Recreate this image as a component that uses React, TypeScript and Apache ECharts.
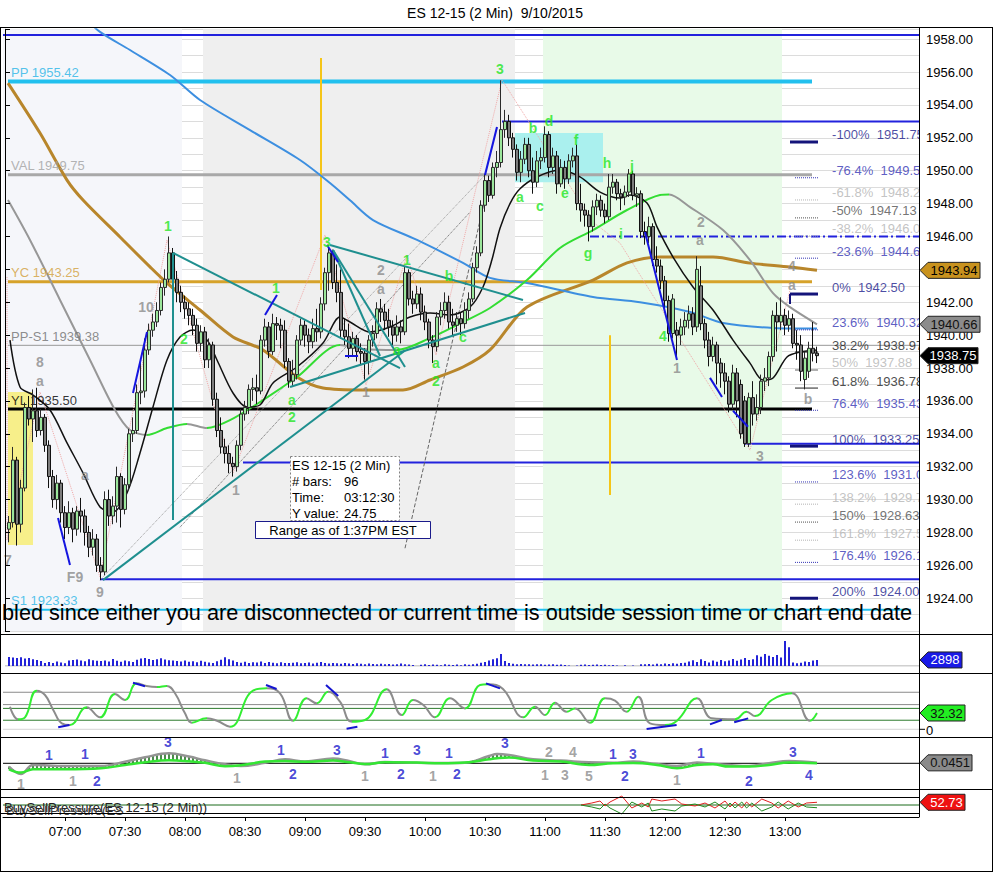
import React, { useEffect, useRef } from "react";
import * as echarts from "echarts";

const FONT = "'Liberation Sans', Arial, Helvetica, sans-serif";
const TITLE = "ES 12-15 (2 Min)  9/10/2015";
const SESSION_START_MIN = 390; // category 0 = 06:30, one category per 2-minute bar
const CATEGORY_COUNT = 229;
const LAST_BAR = 203;
const TIME_LABELS = ["07:00", "07:30", "08:00", "08:30", "09:00", "09:30", "10:00", "10:30", "11:00", "11:30", "12:00", "12:30", "13:00"];
// price tick labels hidden behind the last-value tags in the reference
const TICKS_UNDER_TAGS = [1944];

// [open, close, low, high] for bars 1..203
const BARS: number[][] = [
  [1928.2, 1928.6, 1927.4, 1929.0], [1928.6, 1932.4, 1928.3, 1933.2], [1932.4, 1928.5, 1927.2, 1932.6], [1928.5, 1930.7, 1928.0, 1931.2], [1930.7, 1935.6, 1930.5, 1935.9],
  [1935.6, 1934.9, 1934.5, 1936.3], [1934.9, 1935.4, 1933.5, 1936.7], [1935.4, 1934.2, 1933.8, 1936.8], [1934.2, 1935.0, 1933.9, 1935.5], [1935.0, 1933.3, 1932.9, 1935.2],
  [1933.3, 1931.4, 1930.7, 1933.6], [1931.4, 1930.0, 1929.5, 1931.8], [1930.0, 1931.0, 1929.4, 1931.5], [1931.0, 1929.2, 1928.6, 1931.2], [1929.2, 1928.3, 1927.6, 1929.6],
  [1928.3, 1929.2, 1927.9, 1929.9], [1929.2, 1928.2, 1927.4, 1929.5], [1928.2, 1929.3, 1927.8, 1929.6], [1929.3, 1929.0, 1928.0, 1930.1], [1929.0, 1928.0, 1927.2, 1929.4],
  [1928.0, 1927.1, 1926.5, 1928.4], [1927.1, 1927.6, 1926.6, 1928.2], [1927.6, 1926.0, 1925.6, 1927.9], [1926.0, 1925.6, 1925.1, 1926.5], [1925.6, 1930.0, 1925.4, 1930.5],
  [1930.0, 1929.0, 1928.4, 1930.6], [1929.0, 1929.6, 1928.5, 1930.2], [1929.6, 1931.4, 1928.6, 1932.0], [1931.4, 1929.4, 1928.3, 1931.6], [1929.4, 1930.9, 1929.1, 1931.3],
  [1930.9, 1934.0, 1930.6, 1934.3], [1934.0, 1934.2, 1933.5, 1935.0], [1934.2, 1936.5, 1934.0, 1937.0], [1936.5, 1936.6, 1935.8, 1938.5], [1936.6, 1939.1, 1936.2, 1939.8],
  [1939.1, 1940.3, 1938.8, 1940.7], [1940.3, 1940.8, 1939.9, 1941.3], [1940.8, 1941.5, 1940.5, 1942.0], [1941.5, 1942.9, 1941.2, 1943.2], [1942.9, 1943.4, 1942.4, 1944.0],
  [1943.4, 1945.0, 1943.2, 1946.0], [1945.0, 1943.4, 1943.0, 1945.3], [1943.4, 1942.6, 1942.0, 1943.9], [1942.6, 1942.0, 1941.4, 1943.0], [1942.0, 1941.6, 1941.0, 1942.4],
  [1941.6, 1941.2, 1940.6, 1942.0], [1941.2, 1940.6, 1940.0, 1941.6], [1940.6, 1939.5, 1939.0, 1941.0], [1939.5, 1940.2, 1939.0, 1940.6], [1940.2, 1938.5, 1938.0, 1940.5],
  [1938.5, 1939.4, 1938.0, 1939.8], [1939.4, 1936.1, 1935.7, 1939.6], [1936.1, 1934.2, 1933.8, 1936.5], [1934.2, 1933.2, 1932.8, 1935.0], [1933.2, 1932.8, 1932.2, 1933.7],
  [1932.8, 1932.2, 1931.6, 1933.3], [1932.2, 1932.0, 1931.4, 1932.6], [1932.0, 1933.3, 1931.7, 1933.6], [1933.3, 1935.2, 1933.0, 1935.5], [1935.2, 1935.6, 1934.8, 1936.0],
  [1935.6, 1936.7, 1935.2, 1937.0], [1936.7, 1936.8, 1936.0, 1937.4], [1936.8, 1936.6, 1935.8, 1937.6], [1936.6, 1939.7, 1936.4, 1940.0], [1939.7, 1940.5, 1939.3, 1941.0],
  [1940.5, 1939.0, 1938.6, 1940.8], [1939.0, 1940.7, 1938.8, 1941.3], [1940.7, 1940.6, 1939.7, 1941.1], [1940.6, 1940.3, 1939.2, 1941.0], [1940.3, 1938.4, 1938.0, 1940.9],
  [1938.4, 1937.2, 1936.8, 1938.6], [1937.2, 1937.6, 1936.9, 1938.5], [1937.6, 1939.7, 1937.3, 1940.0], [1939.7, 1940.6, 1939.4, 1941.0], [1940.6, 1940.0, 1939.3, 1940.9],
  [1940.0, 1939.6, 1938.9, 1940.4], [1939.6, 1940.4, 1939.2, 1941.0], [1940.4, 1940.2, 1939.6, 1941.6], [1940.2, 1941.9, 1939.8, 1942.3], [1941.9, 1943.8, 1941.5, 1944.1],
  [1943.8, 1945.0, 1942.7, 1945.5], [1945.0, 1943.2, 1942.8, 1945.2], [1943.2, 1942.6, 1942.0, 1944.3], [1942.6, 1940.3, 1939.8, 1944.0], [1940.3, 1939.9, 1939.4, 1941.0],
  [1939.9, 1939.2, 1938.6, 1940.7], [1939.2, 1939.8, 1938.7, 1940.2], [1939.8, 1939.0, 1938.4, 1940.0], [1939.0, 1938.9, 1938.2, 1939.5], [1938.9, 1938.4, 1937.3, 1939.2],
  [1938.4, 1939.7, 1937.6, 1940.0], [1939.7, 1940.1, 1939.3, 1940.6], [1940.1, 1941.6, 1939.8, 1942.0], [1941.6, 1941.4, 1940.8, 1942.2], [1941.4, 1940.9, 1940.3, 1941.9],
  [1940.9, 1940.5, 1939.9, 1941.6], [1940.5, 1940.0, 1939.4, 1940.9], [1940.0, 1940.5, 1939.6, 1941.2], [1940.5, 1940.2, 1939.5, 1940.9], [1940.2, 1943.8, 1940.0, 1944.2],
  [1943.8, 1942.2, 1941.8, 1944.0], [1942.2, 1941.9, 1941.3, 1942.7], [1941.9, 1942.5, 1941.6, 1943.0], [1942.5, 1941.4, 1940.9, 1942.9], [1941.4, 1940.8, 1940.3, 1941.8],
  [1940.8, 1939.7, 1939.2, 1941.0], [1939.7, 1939.3, 1938.3, 1940.0], [1939.3, 1941.1, 1939.0, 1941.4], [1941.1, 1941.5, 1940.6, 1942.0], [1941.5, 1942.0, 1941.0, 1942.6],
  [1942.0, 1940.8, 1940.4, 1942.4], [1940.8, 1940.6, 1940.0, 1941.6], [1940.6, 1941.0, 1940.2, 1941.4], [1941.0, 1940.7, 1940.0, 1941.4], [1940.7, 1941.5, 1940.4, 1942.0],
  [1941.5, 1942.2, 1941.0, 1942.6], [1942.2, 1944.1, 1942.0, 1944.4], [1944.1, 1945.0, 1943.8, 1945.4], [1945.0, 1947.9, 1944.8, 1948.2], [1947.9, 1949.4, 1947.5, 1949.8],
  [1949.4, 1948.5, 1948.1, 1949.7], [1948.5, 1950.2, 1948.3, 1950.5], [1950.2, 1950.5, 1949.6, 1951.2], [1950.5, 1952.5, 1950.2, 1955.5], [1952.5, 1953.0, 1952.0, 1953.7],
  [1953.0, 1952.0, 1951.5, 1953.4], [1952.0, 1951.3, 1950.8, 1952.3], [1951.3, 1949.9, 1949.4, 1951.6], [1949.9, 1950.7, 1949.3, 1951.2], [1950.7, 1951.6, 1950.4, 1952.0],
  [1951.6, 1950.0, 1949.6, 1952.0], [1950.0, 1949.3, 1948.6, 1950.8], [1949.3, 1950.6, 1949.0, 1951.2], [1950.6, 1950.8, 1950.1, 1951.4], [1950.8, 1952.2, 1950.5, 1952.7],
  [1952.2, 1950.2, 1949.6, 1952.4], [1950.2, 1950.9, 1949.8, 1951.4], [1950.9, 1949.2, 1948.6, 1951.2], [1949.2, 1950.2, 1949.0, 1950.7], [1950.2, 1949.5, 1948.9, 1950.6],
  [1949.5, 1950.6, 1949.2, 1951.0], [1950.6, 1950.9, 1950.2, 1951.4], [1950.9, 1948.0, 1947.6, 1951.6], [1948.0, 1947.6, 1946.9, 1949.2], [1947.6, 1947.3, 1946.6, 1948.0],
  [1947.3, 1946.6, 1945.7, 1947.6], [1946.6, 1947.8, 1946.3, 1948.2], [1947.8, 1948.2, 1947.3, 1948.6], [1948.2, 1947.6, 1947.2, 1948.5], [1947.6, 1947.2, 1946.8, 1948.0],
  [1947.2, 1949.0, 1947.0, 1949.8], [1949.0, 1949.3, 1948.6, 1949.8], [1949.3, 1948.6, 1948.2, 1949.5], [1948.6, 1948.4, 1947.6, 1948.9], [1948.4, 1948.7, 1947.9, 1949.1],
  [1948.7, 1949.8, 1948.4, 1950.1], [1949.8, 1948.5, 1948.2, 1950.0], [1948.5, 1948.6, 1947.8, 1949.0], [1948.6, 1946.3, 1945.9, 1948.8], [1946.3, 1946.0, 1945.5, 1946.9],
  [1946.0, 1946.6, 1945.6, 1947.2], [1946.6, 1944.6, 1944.2, 1946.8], [1944.6, 1944.2, 1943.8, 1945.4], [1944.2, 1943.3, 1942.8, 1944.6], [1943.3, 1942.1, 1941.6, 1943.6],
  [1942.1, 1940.1, 1939.6, 1942.4], [1940.1, 1942.2, 1939.8, 1942.5], [1940.3, 1940.0, 1938.5, 1940.8], [1940.0, 1940.5, 1939.4, 1941.0], [1940.5, 1940.9, 1940.0, 1941.4],
  [1940.9, 1941.3, 1940.4, 1941.8], [1941.3, 1940.5, 1940.0, 1941.7], [1940.5, 1944.0, 1940.2, 1944.8], [1943.0, 1940.7, 1940.3, 1944.2], [1940.7, 1939.7, 1939.2, 1941.0],
  [1939.7, 1938.7, 1938.1, 1940.2], [1938.7, 1939.4, 1938.4, 1939.9], [1939.4, 1938.3, 1937.0, 1939.6], [1938.3, 1937.7, 1936.8, 1938.6], [1937.7, 1937.2, 1936.4, 1938.3],
  [1937.2, 1935.8, 1935.3, 1937.5], [1935.8, 1937.7, 1935.5, 1938.2], [1937.7, 1936.0, 1935.0, 1938.0], [1937.0, 1934.0, 1933.7, 1937.3], [1936.0, 1933.4, 1933.2, 1936.3],
  [1933.4, 1936.2, 1933.2, 1936.5], [1936.2, 1935.2, 1934.5, 1937.2], [1935.2, 1935.6, 1934.8, 1936.4], [1935.6, 1937.2, 1935.2, 1937.6], [1937.2, 1937.4, 1936.6, 1938.0],
  [1937.4, 1938.7, 1936.9, 1939.0], [1938.7, 1941.2, 1938.4, 1941.5], [1941.2, 1940.8, 1939.0, 1942.0], [1940.8, 1941.2, 1940.3, 1942.3], [1941.2, 1940.6, 1940.0, 1941.6],
  [1940.6, 1941.0, 1940.2, 1941.5], [1941.0, 1939.5, 1939.2, 1941.3], [1939.5, 1939.4, 1938.5, 1940.3], [1939.4, 1937.8, 1937.2, 1940.0], [1937.3, 1938.6, 1936.7, 1939.0],
  [1937.8, 1939.2, 1937.4, 1939.6], [1939.2, 1938.9, 1938.4, 1940.8], [1938.9, 1938.75, 1938.3, 1939.3],
];

// volume per bar 1..203
const VOLUME: number[] = [
  4300, 4100, 3900, 4200, 3600, 3800, 3300, 2900, 2400,
  1500, 1900, 1400, 2200, 1700, 1300,
  2600, 2900, 3100, 2700, 2300, 3300, 2800, 2500,
  2400, 2600, 2200, 3400, 2500, 2100, 2700, 2300, 1900,
  3000, 3600, 3900, 3400, 2900, 3200, 3700, 3100, 2800, 2600,
  2400, 2200, 2600, 2100, 2300, 1800, 2500, 2000, 1700, 1500, 2300,
  3000, 4200, 3300, 2700,
  1900, 1600, 2100, 1400, 1800, 1700, 2200, 1500, 1900, 1600, 1300, 1800, 1500,
  1400, 1600, 1800, 1300, 1500, 1700, 1200, 1600, 1900, 1400, 1200, 1500, 1300, 1100, 1400,
  1200, 1000, 1300, 1100, 900, 1200, 1000, 800, 1100, 900, 1000, 700, 900, 1200, 800,
  700, 500, 0, 600, 800, 500, 700, 600, 400, 800, 600, 500, 700, 400, 900, 600, 800, 1100,
  1600, 1900, 2600, 3300, 3700, 5800, 2400, 1500, 1100,
  900, 1000, 800, 900, 700, 800, 900, 600, 700, 800, 600, 700, 500,
  300, 0, 300,
  600, 700, 500, 600, 700, 500, 600, 400, 500, 300, 0, 400, 0, 300, 0,
  800, 900, 1000, 700, 1100, 900, 1200, 1000, 1300, 1100, 1400,
  1600, 2200, 2800, 1900, 3200, 2400, 1700, 2600, 2100, 2900,
  2300, 2700, 3400, 2500, 3100, 3800, 2900, 3300,
  5200, 4400, 5800, 4900, 4300, 5300, 4100,
  12000, 9000,
  1700, 1300, 1600, 2200, 1900, 2600, 2898,
];

// moving averages: [bar position, price]
const MA_BLUE = [[20, 1959.3], [23.75, 1958.44], [31.25, 1957.34], [41.25, 1955.82], [48.75, 1954.3], [61.25, 1952.47], [73.75, 1950.65], [81.25, 1949.25], [86.25, 1948.2], [92, 1947.0], [103, 1945.79], [114.5, 1944.39], [121.25, 1943.48], [130.5, 1943.17], [147, 1942.32], [158.75, 1942.0], [171.25, 1941.41], [179.5, 1940.74], [192, 1940.44], [203, 1940.4]];
const MA_SLOPE = [[0.75, 1948.22], [6.25, 1945.79], [13.75, 1942.14], [21.25, 1938.49], [27.5, 1935.45], [31.25, 1934.23], [35.5, 1933.93], [40.5, 1934.35], [45.5, 1934.6], [50.5, 1934.35], [56.25, 1934.83], [64.5, 1936.05], [73, 1937.45], [83.75, 1939.4], [89.5, 1939.16], [98, 1939.1], [106.25, 1939.82], [114.5, 1940.8], [121.25, 1941.65], [130.5, 1943.35], [138.75, 1945.3], [147, 1946.39], [155.5, 1947.61], [163.75, 1948.52], [166, 1948.55], [171.25, 1947.79], [179.5, 1946.39], [186.25, 1944.56], [192, 1942.55], [196.25, 1941.7], [203, 1940.66]];
const MA_BLACK = [[1.25, 1939.7], [3.75, 1936.85], [7, 1936.36], [11.25, 1935.45], [15.5, 1933.45], [19.5, 1931.62], [23.75, 1929.55], [27, 1929.24], [30.5, 1930.4], [33.75, 1932.83], [37, 1935.63], [40.5, 1938.49], [43.75, 1939.89], [47, 1940.31], [50.5, 1939.71], [53, 1938.49], [57, 1936.48], [60.5, 1935.63], [63.75, 1935.75], [67, 1937.09], [73, 1938.06], [79.5, 1939.52], [83.75, 1941.1], [86.25, 1940.8], [91.25, 1940.19], [96.25, 1940.49], [101.25, 1941.1], [106.25, 1941.34], [111.25, 1941.22], [116.25, 1941.71], [119.5, 1942.93], [121.75, 1944.6], [123.75, 1946.5], [126.25, 1948.0], [128.75, 1948.9], [133, 1949.62], [138.75, 1950.04], [143.75, 1949.62], [148.75, 1948.7], [153.75, 1948.34], [156.25, 1948.52], [160.5, 1948.04], [163, 1946.58], [167, 1944.75], [172, 1942.93], [177, 1941.53], [182, 1939.7], [186.25, 1938.3], [189.5, 1937.27], [192, 1937.39], [195.5, 1938.67], [198.75, 1938.97], [203, 1939.1]];
const MA_BROWN = [[0.75, 1955.33], [8.75, 1952.29], [15.5, 1949.43], [19.5, 1948.22], [28.75, 1945.97], [36.25, 1944.15], [40.5, 1943.17], [48.75, 1941.53], [57, 1939.89], [64.5, 1939.1], [73, 1937.45], [79.5, 1936.78], [89.5, 1936.66], [99.5, 1936.66], [106.25, 1937.27], [114.5, 1938.06], [121.25, 1939.1], [130.5, 1941.71], [147, 1943.35], [155.5, 1944.39], [163.75, 1944.75], [177, 1944.75], [186.25, 1944.38], [196.25, 1944.14], [203, 1943.94]];

// horizontal levels: price and bar extent
const LEVELS = [
  { id: "top", price: 1958.25, from: -0.5, to: 228.5, label: "" },
  { id: "pp", price: 1955.42, from: 0.75, to: 201.75, label: "PP 1955.42" },
  { id: "swingHigh", price: 1953.0, from: 124.25, to: 228.5, label: "" },
  { id: "val", price: 1949.75, from: 0.75, to: 201.75, label: "VAL 1949.75" },
  { id: "dashdot", price: 1946.0, from: 146.25, to: 228.5, label: "" },
  { id: "yc", price: 1943.25, from: 0.75, to: 201.75, label: "YC 1943.25" },
  { id: "pps1", price: 1939.38, from: 0.75, to: 228.5, label: "PP-S1 1939.38" },
  { id: "yl", price: 1935.5, from: 0.75, to: 201.75, label: "YL 1935.50" },
  { id: "fib100", price: 1933.4, from: 185, to: 228.5, label: "" },
  { id: "low1", price: 1932.25, from: 59.5, to: 228.5, label: "" },
  { id: "low9", price: 1925.15, from: 23.75, to: 228.5, label: "" },
  { id: "s1", price: 1923.3, from: 0.75, to: 226.5, label: "S1 1923.33" },
];

const FIB_LEVELS: [string, number][] = [
  ["-100%", 1951.75], ["-76.4%", 1949.57], ["-61.8%", 1948.22], ["-50%", 1947.13], ["-38.2%", 1946.03], ["-23.6%", 1944.68],
  ["0%", 1942.5], ["23.6%", 1940.32], ["38.2%", 1938.97], ["50%", 1937.88], ["61.8%", 1936.78], ["76.4%", 1935.43],
  ["100%", 1933.25], ["123.6%", 1931.07], ["138.2%", 1929.72], ["150%", 1928.63], ["161.8%", 1927.53], ["176.4%", 1926.18], ["200%", 1924.0],
];

// trend / annotation lines: [[bar, price], [bar, price]]
const TEAL_LINES = [
  [[42, 1945.0], [42, 1928.76]], [[24.5, 1925.1], [100, 1939.07]], [[42, 1945.0], [98.75, 1938.0]],
  [[81.25, 1945.48], [129.5, 1942.14]], [[82, 1945.18], [93.75, 1938.73]], [[82, 1945.18], [100, 1938.06]],
  [[71.25, 1936.85], [130, 1941.35]],
];
const BLUE_STROKES = [
  [[32, 1936.48], [35.5, 1940.19]], [[13.25, 1928.88], [16.25, 1926.02]], [[65, 1941.22], [68, 1942.44]],
  [[80.5, 1945.48], [83.25, 1944.45]], [[85, 1938.73], [88.25, 1938.73]], [[120, 1949.74], [123, 1952.66]],
  [[160, 1946.27], [168, 1938.49]], [[176.25, 1937.4], [179.25, 1936.24]], [[182, 1935.4], [185.75, 1934.43]],
];
const YELLOW_VERTICALS = [[[79, 1956.86], [79, 1942.75]], [[151.25, 1940.0], [151.25, 1930.27]]];
const DOTTED_GUIDES = [[[23.75, 1925.1], [120, 1949.74]], [[100, 1927.04], [120.5, 1948.82]], [[43.75, 1928.32], [116.25, 1947.48]]];
const ZIGZAG = [[0.5, 1943.53], [0.5, 1927.53], [8.75, 1936.54], [23.75, 1925.28], [40.5, 1945.79], [57, 1931.61], [80, 1946.09], [90.25, 1936.97], [100.5, 1944.87], [107.75, 1938.79], [124.25, 1955.52], [147, 1946.88], [153.75, 1945.6], [186.25, 1933.01], [196.25, 1942.74]];

// shaded zones: [fromBar, toBar, lowPrice, highPrice]
const ZONES = [[-0.5, 44.25, 1922, 1958.6], [49.5, 127.5, 1922, 1958.6], [134.5, 194.25, 1922, 1958.6], [127.5, 149.5, 1949.3, 1952.29], [0.75, 7, 1927.23, 1936.54]];

// wave labels [text, bar, price]
const GREEN_LABELS: [string, number, number][] = [["1", 40.75, 1946.64], ["2", 44.75, 1939.75], ["1", 67.75, 1942.87], ["a", 71.75, 1936.06], ["2", 71.75, 1935.0], ["3", 80.5, 1945.66], ["a", 98, 1939.1], ["1", 100.5, 1944.57], ["b", 111, 1943.6], ["c", 114.5, 1939.9], ["a", 107.75, 1938.3], ["2", 107.75, 1937.2], ["3", 123.75, 1956.19], ["a", 128.75, 1948.4], ["b", 132, 1952.6], ["c", 133.75, 1947.85], ["d", 136, 1953.0], ["e", 140, 1948.64], ["f", 142.75, 1951.87], ["g", 145.75, 1945.0], ["h", 150.5, 1950.47], ["i", 154, 1946.15], ["j", 156.75, 1950.3], ["4", 164.5, 1939.95]];
const GRAY_LABELS: [string, number, number][] = [["10", 35.25, 1941.71], ["8", 8.75, 1938.37], ["a", 8.75, 1937.21], ["7", 0.75, 1926.32], ["F9", 17.5, 1925.28], ["9", 23.75, 1924.4], ["a", 20, 1931.5], ["1", 57.75, 1930.58], ["2", 94, 1943.96], ["a", 94, 1942.8], ["1", 90.25, 1936.54], ["2", 174, 1946.9], ["a", 173.75, 1945.79], ["1", 168, 1938.0], ["3", 188.75, 1932.65], ["4", 196.75, 1944.2], ["a", 196.75, 1943.05], ["b", 200.75, 1936.1]];

// oscillator panel (0..100)
const OSC = [[1.25, 44.8], [3.3, 19.7], [5, 23.7], [7.9, 76.7], [10, 68], [12.1, 38], [14.2, 11.8], [16.25, 8.5], [20.4, 43.5], [23.75, 23.7], [27.5, 70], [30, 58.1], [32.9, 91.2], [35.4, 86], [38, 84], [40.4, 86], [42.5, 71.4], [45, 31.6], [46.7, 13], [50.4, 21.7], [53, 17], [56.25, 5.2], [62, 76.7], [65.4, 81.3], [68.75, 71.4], [72, 17], [75.4, 61.4], [77.9, 51.5], [80.8, 74.7], [83.75, 54.8], [86.7, 15.1], [90, 18.4], [95.4, 79.3], [99.2, 28.3], [102, 58.1], [104.6, 48.2], [107.5, 23.7], [111.25, 61.4], [115, 41.5], [118.75, 88], [120.8, 89.3], [124.5, 80], [129.6, 23.7], [132.5, 44.8], [135, 28.3], [137.5, 52.8], [140.4, 34.9], [142.5, 41.5], [146.25, 13], [150, 61.4], [152.5, 57], [155.4, 34.9], [158.3, 64.7], [161.25, 11.8], [165, 8.5], [168, 17], [173, 61.4], [176.7, 21.7], [182.5, 19.7], [185.4, 34.9], [187.5, 26.3], [191.7, 58.1], [196.7, 71.4], [201.25, 17], [203, 32.32]];
const OSC_LEVELS = [0, 18, 41.5, 49, 73.5];
const OSC_MARKS = [[[13.3, 3.9], [16.1, 8.5]], [[32, 92.5], [35, 85.4]], [[65.25, 88], [67.9, 80]], [[80.25, 88], [83.3, 66]], [[85.4, 1.2], [88.1, 5.2]], [[120.25, 91.2], [123.75, 81.3]], [[160.4, 0.5], [167.9, 8.5]], [[176.25, 9.8], [179.2, 18.4]], [[182.3, 13.8], [185.8, 21.7]]];

// MACD-like panel
const MACD_X = [1, 4, 7, 15, 24, 30, 35, 41, 46, 50, 55, 59, 65, 70, 75, 82, 86, 90, 95, 103, 109, 115, 121, 123, 126, 132, 139, 146, 152, 157, 163, 168, 173, 177, 181, 186, 191, 196, 203];
const MACD_FAST = [-0.6, -0.93, -0.6, -0.6, -0.5, -0.17, 0.1, 0.3, 0.2, 0.05, -0.3, -0.2, 0.17, 0.23, 0.15, 0.27, 0.1, -0.07, 0.1, 0.07, 0, 0.07, 0.4, 0.5, 0.57, 0.27, 0.17, -0.17, 0, 0.02, -0.17, -0.5, -0.17, -0.1, -0.33, -0.33, -0.17, 0.07, 0];
const MACD_SIGNAL = [-0.33, -1.07, -0.17, -0.27, -0.27, 0.15, 0.6, 1.0, 0.67, 0.3, -0.1, -0.27, 0.05, 0.4, 0.17, 0.47, 0.23, -0.1, 0.13, 0.05, 0.03, 0.06, 0.73, 0.93, 0.83, 0.4, 0.27, 0.1, 0.05, 0.17, -0.07, -0.27, 0.07, -0.05, -0.17, -0.27, 0, 0.23, 0.0451];
const MACD_BLUE_LABELS: [string, number, number][] = [["1", 11, 0.83], ["1", 20, 0.93], ["2", 23, -1.77], ["3", 40.75, 2.1], ["1", 69, 1.33], ["2", 72, -1.07], ["3", 83, 1.33], ["1", 95, 1.03], ["2", 99, -1.07], ["3", 103, 1.33], ["1", 111, 1.03], ["2", 113, -1.07], ["3", 125, 2.0], ["1", 152, 0.93], ["3", 157, 0.93], ["2", 155, -1.27], ["1", 174, 1.03], ["2", 186, -1.77], ["3", 197, 1.13], ["4", 201, -1.17]];
const MACD_GRAY_LABELS: [string, number, number][] = [["1", 4, -2.1], ["1", 17, -1.77], ["1", 58, -1.47], ["1", 90, -1.27], ["1", 107, -1.27], ["2", 136, 1.13], ["4", 142, 1.13], ["1", 135, -1.17], ["3", 140, -1.17], ["5", 146, -1.27], ["1", 168, -1.67]];

// buy / sell pressure (buy side; sell side is its complement to 100)
const BSP_BUY = [[144, 50], [146.7, 52], [148.75, 54], [150, 49], [151.25, 53], [154.2, 59], [156.7, 47], [159.2, 52], [160.8, 48], [161.7, 56], [164.2, 54], [167.5, 56], [169.2, 51], [172.5, 49], [175, 52], [177.5, 47], [180, 54], [181.25, 48], [182.5, 53], [184.2, 47], [185.4, 53], [186.7, 48], [189.2, 56], [191.7, 52], [193.3, 47], [195.8, 54], [198.3, 48], [200.4, 52], [203, 52.73]];

// ---- styles ----
const C = {
  green: "#22e622", gray: "#8a8a8a", navy: "#1c1c8c", blue: "#2a2ad8", teal: "#1f8f8f",
  cyan: "#25bdea", gold: "#d6a22a", brown: "#b8862b", maBlue: "#3d8fe0",
};
const LEVEL_STYLE: Record<string, any> = {
  top: { color: "#2222dd", width: 2 },
  pp: { color: "#22c0ee", width: 4, labelColor: "#28b4e6" },
  swingHigh: { color: "#2222dd", width: 2 },
  val: { color: "#a8a8a8", width: 3, labelColor: "#a0a0a0" },
  dashdot: { color: "#2222dd", width: 2, type: [9, 3, 2, 3] },
  yc: { color: "#d6a22a", width: 3, labelColor: "#d2a03a" },
  pps1: { color: "#999999", width: 1, labelColor: "#707070" },
  yl: { color: "#000000", width: 3, labelColor: "#000000" },
  fib100: { color: "#2222dd", width: 2 },
  low1: { color: "#2222dd", width: 2 },
  low9: { color: "#2222dd", width: 2 },
  s1: { color: "#22c0ee", width: 2, labelColor: "#28b4e6" },
};
const FIB_TEXT = ["navy", "blue", "light", "dark", "light", "blue", "navy", "blue", "black", "light", "black", "blue", "navy", "blue", "light", "dark", "light", "blue", "navy"];
const FIB_COLOR: Record<string, string> = { navy: "#1c1c8c", blue: "#3434b4", light: "#b4b4b4", dark: "#505050", black: "#202020" };
const ZONE_COLORS = ["#f5f6fa", "#efefef", "#e8fae8", "#aaf0ee", "#f7ef8a"];

function timeOf(k: number) {
  const m = SESSION_START_MIN + 2 * k;
  return String(Math.floor(m / 60)).padStart(2, "0") + ":" + String(m % 60).padStart(2, "0");
}

function risingPieces(pts: number[][], color: string) {
  const pieces: any[] = [];
  for (let i = 0; i < pts.length - 1; i++) {
    if (pts[i + 1][1] > pts[i][1]) pieces.push({ gte: pts[i][0], lte: pts[i + 1][0], color });
  }
  return pieces;
}

function buildOption() {
  const cats = Array.from({ length: CATEGORY_COUNT }, (_, k) => timeOf(k));
  const candleData = Array.from({ length: LAST_BAR + 1 }, (_, k) => (k >= 1 ? BARS[k - 1] : ["-", "-", "-", "-"]));
  const volData = Array.from({ length: LAST_BAR + 1 }, (_, k) => (k >= 1 ? VOLUME[k - 1] : "-"));
  const series: any[] = [];
  const AX: Record<string, number[]> = { main: [1, 0], osc: [3, 3], macd: [4, 4], bsp: [5, 5] };
  const line = (panel: string, data: any[], lineStyle: any, extra: any = {}) => {
    series.push({ type: "line", xAxisIndex: AX[panel][0], yAxisIndex: AX[panel][1], data, symbol: "none", silent: true, lineStyle, z: 3, ...extra });
    return series.length - 1;
  };
  const labels = (panel: string, items: [string, number, number][], color: string, size = 14) => {
    series.push({
      type: "scatter", xAxisIndex: AX[panel][0], yAxisIndex: AX[panel][1], symbolSize: 0.1, silent: true, z: 8,
      itemStyle: { color: "rgba(0,0,0,0)" },
      label: { show: true, position: "inside", formatter: (p: any) => p.name, color, fontFamily: FONT, fontWeight: "bold", fontSize: size },
      data: items.map(([t, x, y]) => ({ name: t, value: [x, y] })),
    });
  };

  // background zones
  series.push({
    type: "line", xAxisIndex: 1, yAxisIndex: 0, data: [[0, 1940]], symbol: "none", lineStyle: { opacity: 0 }, z: 0, silent: true,
    markArea: { silent: true, data: ZONES.map((z, i) => [{ coord: [z[0], z[2]], itemStyle: { color: ZONE_COLORS[i] } }, { coord: [z[1], z[3]] }]) },
  });

  // horizontal levels
  LEVELS.forEach((lv) => {
    const st = LEVEL_STYLE[lv.id];
    line("main", [[lv.from, lv.price], [lv.to, lv.price]], { color: st.color, width: st.width, type: st.type || "solid" }, { z: 2 });
  });
  series.push({
    type: "scatter", xAxisIndex: 1, yAxisIndex: 0, symbolSize: 0.1, silent: true, z: 4, itemStyle: { color: "rgba(0,0,0,0)" },
    label: { show: true, position: "right", distance: 0, offset: [0, -9], formatter: (p: any) => p.name, fontFamily: FONT, fontSize: 13 },
    data: LEVELS.filter((l) => l.label).map((l) => ({ name: l.label, value: [1.5, l.price], label: { color: LEVEL_STYLE[l.id].labelColor } })),
  });

  // fib marks + labels
  FIB_LEVELS.forEach(([pct, v], i) => {
    const kind = FIB_TEXT[i];
    const major = pct === "0%" || pct === "-100%" || pct === "100%" || pct === "200%";
    let st: any;
    if (major) st = { color: "#14147a", width: 3 };
    else if (pct === "38.2%" || pct === "61.8%") st = { color: "#222", width: 1 };
    else if (pct === "50%") st = { color: "#b0b0b0", width: 2 };
    else st = { color: FIB_COLOR[kind], width: 1, type: "dotted" };
    line("main", [[major ? 196.25 : 197.5, v], [203.25, v]], st, { z: 4 });
  });
  line("main", [[196.25, 1942.5], [196.25, 1941.9]], { color: "#14147a", width: 2 }, { z: 4 });
  series.push({
    type: "scatter", xAxisIndex: 1, yAxisIndex: 0, symbolSize: 0.1, silent: true, z: 4, itemStyle: { color: "rgba(0,0,0,0)" },
    label: { show: true, position: "right", distance: 0, offset: [0, -7], formatter: (p: any) => p.name, fontFamily: FONT, fontSize: 13 },
    data: FIB_LEVELS.map(([pct, v], i) => ({ name: pct + "\u00a0\u00a0" + v.toFixed(2), value: [206.75, v], label: { color: FIB_COLOR[FIB_TEXT[i]] } })),
  });

  // guides
  line("main", ZIGZAG, { color: "#f0a8a8", width: 1, type: "dotted" }, { z: 2 });
  DOTTED_GUIDES.forEach((d, i) => line("main", d, { color: i === 0 ? "#9a9a9a" : "#666", width: 1, type: i === 1 ? "dashed" : "dotted" }, { z: 2 }));
  YELLOW_VERTICALS.forEach((d) => line("main", d, { color: "#f5c518", width: 2 }, { z: 2 }));

  // moving averages
  line("main", MA_BROWN, { color: C.brown, width: 3 }, { smooth: 0.3, z: 3 });
  line("main", MA_BLUE, { color: C.maBlue, width: 2 }, { smooth: 0.3, z: 3 });
  const slopeIdx = line("main", MA_SLOPE, { width: 2 }, { smooth: 0.3, z: 3 });
  line("main", MA_BLACK, { color: "#111", width: 1.5 }, { smooth: 0.3, z: 3 });

  // candles
  series.push({
    type: "candlestick", xAxisIndex: 0, yAxisIndex: 0, data: candleData, barWidth: 3, z: 5, silent: true,
    itemStyle: { color: "#9be69b", color0: "#7c7c7c", borderColor: "#2a2a2a", borderColor0: "#111", borderWidth: 1 },
  });

  // trend lines
  TEAL_LINES.forEach((d) => line("main", d, { color: C.teal, width: 2 }, { z: 6 }));
  BLUE_STROKES.forEach((d) => line("main", d, { color: "#1515e0", width: 2 }, { z: 6 }));

  labels("main", GREEN_LABELS, C.green);
  labels("main", GRAY_LABELS, C.gray);

  // volume
  series.push({ type: "bar", xAxisIndex: 2, yAxisIndex: 2, data: volData, barWidth: 2, itemStyle: { color: "#2323d8" }, silent: true, z: 3 });
  line("osc", [[-0.5, 0], [228.5, 0]], { color: "#a0a0a0", width: 1 }, { xAxisIndex: 2, yAxisIndex: 2, z: 2 });

  // oscillator
  OSC_LEVELS.forEach((lv, i) => line("osc", [[-0.5, lv], [228.5, lv]], { color: i === 0 ? "#d4d4d4" : i < 3 ? "#2c7a2c" : "#8a8a8a", width: 1 }, { z: 2 }));
  const oscIdx = line("osc", OSC, { width: 2 }, { smooth: 0.45, z: 3 });
  OSC_MARKS.forEach((d) => line("osc", d, { color: "#1515d0", width: 2 }, { z: 4 }));

  // macd: hatch between the two lines, drawn through the panel's scales
  line("macd", [[-0.5, 0], [228.5, 0]], { color: "#000", width: 1 }, { z: 2 });
  series.push({
    type: "custom", xAxisIndex: 4, yAxisIndex: 4, silent: true, z: 2, data: [0],
    renderItem: (_params: any, api: any) => {
      const children: any[] = [];
      for (let i = 0; i < MACD_X.length - 1; i++) {
        const x0 = MACD_X[i], x1 = MACD_X[i + 1];
        for (let x = Math.ceil(x0); x < x1; x += 1) {
          const t = (x - x0) / (x1 - x0);
          const f = MACD_FAST[i] + (MACD_FAST[i + 1] - MACD_FAST[i]) * t;
          const s = MACD_SIGNAL[i] + (MACD_SIGNAL[i + 1] - MACD_SIGNAL[i]) * t;
          const a = api.coord([x, f]);
          const b = api.coord([x, s]);
          children.push({ type: "line", shape: { x1: a[0], y1: a[1], x2: b[0], y2: b[1] }, style: { stroke: s > f ? "#1f6f1f" : "#9a9a9a", lineWidth: 1.6 } });
        }
      }
      return { type: "group", children };
    },
  });
  line("macd", MACD_X.map((x, i) => [x, MACD_SIGNAL[i]]), { color: "#959595", width: 2.5 }, { smooth: 0.4, z: 3 });
  line("macd", MACD_X.map((x, i) => [x, MACD_FAST[i]]), { color: "#33e633", width: 2.5 }, { smooth: 0.4, z: 4 });
  labels("macd", MACD_BLUE_LABELS, "#1a1acc");
  labels("macd", MACD_GRAY_LABELS, "#8c8c8c");

  // buy/sell pressure
  line("bsp", [[-0.5, 50], [228.5, 50]], { color: "#1a6a1a", width: 1 }, { z: 2 });
  line("bsp", BSP_BUY, { color: "#e02020", width: 1 }, { z: 3 });
  line("bsp", BSP_BUY.map(([x, v]) => [x, 100 - v]), { color: "#1f8a1f", width: 1 }, { z: 3 });

  const hiddenVal = (gridIndex: number, min: number, max: number) => ({ type: "value", gridIndex, min, max, show: false });
  const hiddenCat = (gridIndex: number) => ({ type: "category", gridIndex, data: cats, show: false, boundaryGap: true });
  const labelFilter = (idx: number, val: string) => TIME_LABELS.includes(val) && idx <= LAST_BAR;

  return {
    animation: false,
    backgroundColor: "#ffffff",
    grid: [
      { left: 3, width: 916, top: 29.3, height: 601.8 },
      { left: 3, width: 916, top: 634, height: 32 },
      { left: 3, width: 916, top: 673, height: 64 },
      { left: 3, width: 916, top: 737, height: 52 },
      { left: 3, width: 916, top: 795, height: 20 },
      { left: 3, width: 916, top: 797, height: 20 },
    ],
    xAxis: [
      hiddenCat(0),
      hiddenVal(0, -0.5, 228.5),
      hiddenCat(1),
      hiddenVal(2, -0.5, 228.5),
      hiddenVal(3, -0.5, 228.5),
      hiddenVal(4, -0.5, 228.5),
      {
        type: "category", gridIndex: 5, data: cats, boundaryGap: true, position: "bottom",
        axisLine: { show: true, lineStyle: { color: "#000", width: 1 } },
        axisTick: { show: true, interval: labelFilter, alignWithLabel: true, length: 4, lineStyle: { color: "#000" } },
        axisLabel: { interval: labelFilter, color: "#000", fontSize: 13, fontFamily: FONT, margin: 8 },
        splitLine: { show: false },
      },
    ],
    yAxis: [
      {
        type: "value", gridIndex: 0, min: 1922, max: 1958.6, interval: 2, position: "right", z: 100,
        axisLine: { show: true, lineStyle: { color: "#000" } },
        axisTick: { show: true, length: 5, lineStyle: { color: "#000" } },
        axisLabel: {
          color: "#000", fontSize: 13, fontFamily: FONT, margin: 7,
          formatter: (v: number) =>
            Math.abs(v - Math.round(v)) < 1e-6 && v > 1923 && v < 1958.5 && !TICKS_UNDER_TAGS.includes(Math.round(v)) ? v.toFixed(2) : "",
        },
        splitLine: { show: false },
      },
      {
        type: "value", gridIndex: 0, min: 1922, max: 1958.6, interval: 1, position: "right",
        axisLine: { show: false }, axisTick: { show: false }, axisLabel: { show: false },
        splitLine: { show: true, lineStyle: { color: "#dcdcdc", width: 1 } },
      },
      hiddenVal(1, 0, 15360),
      hiddenVal(2, -15.3, 111.7),
      hiddenVal(3, -2.57, 2.63),
      hiddenVal(4, 40, 60),
      hiddenVal(5, 0, 1),
    ],
    visualMap: [
      { type: "piecewise", show: false, seriesIndex: slopeIdx, dimension: 0, pieces: risingPieces(MA_SLOPE, "#33dd33"), outOfRange: { color: "#979797" } },
      { type: "piecewise", show: false, seriesIndex: oscIdx, dimension: 0, pieces: risingPieces(OSC, "#33ee33"), outOfRange: { color: "#8c8c8c" } },
    ],
    series,
  };
}

function buildGraphic(chart: any) {
  const g: any[] = [];
  const txt = (x: number, y: number, text: string, o: any = {}) =>
    g.push({
      type: "text", x, y, z: o.z ?? 40, silent: true,
      style: { text, fill: o.color ?? "#000", font: o.font ?? `13px ${FONT}`, align: o.align ?? "left", verticalAlign: "middle", textAlign: o.align ?? "left", textVerticalAlign: "middle" },
    });
  const ln = (x1: number, y1: number, x2: number, y2: number, o: any = {}) =>
    g.push({ type: "line", z: o.z ?? 45, silent: true, shape: { x1, y1, x2, y2 }, style: { stroke: o.color ?? "#000", lineWidth: o.w ?? 1 } });
  const py = (axis: number, v: number) => chart.convertToPixel({ yAxisIndex: axis }, v);
  const tag = (cy: number, w: number, text: string, fill: string, color: string) => {
    const x = 920;
    g.push({ type: "polygon", z: 200, silent: true, shape: { points: [[x, cy], [x + 8, cy - 8], [x + w, cy - 8], [x + w, cy + 8], [x + 8, cy + 8]] }, style: { fill, stroke: "#222", lineWidth: 1 } });
    txt(x + 8 + (w - 8) / 2, cy, text, { align: "center", color, z: 201 });
  };

  // mask right of the price axis so long fib labels are cut at the axis
  g.push({ type: "rect", z: 50, silent: true, shape: { x: 920, y: 28, width: 72, height: 605 }, style: { fill: "#fff" } });

  txt(495, 13, TITLE, { align: "center", font: `14px ${FONT}` });

  // frame and panel separators
  ln(0, 27.5, 993, 27.5);
  ln(0.5, 27, 0.5, 872);
  ln(992.5, 27, 992.5, 872);
  ln(0, 871.5, 993, 871.5);
  ln(919.5, 27, 919.5, 817, { z: 90 });
  [634.5, 673.5, 737.5, 789.5].forEach((y) => ln(0, y, 993, y, { z: 90 }));
  [797.5, 813.5].forEach((y) => ln(0, y, 919.5, y, { z: 90 }));
  ln(919.5, 729.3, 925, 729.3);
  txt(926, 730, "0");

  // message + tooltip boxes
  txt(2, 612, "bled since either you are disconnected or current time is outside session time or chart end date", { font: `21.7px ${FONT}`, z: 42 });
  g.push({ type: "rect", z: 41, silent: true, shape: { x: 290.5, y: 456.5, width: 109, height: 64 }, style: { fill: "#fff", stroke: "#808080", lineWidth: 1, lineDash: [2, 2] } });
  txt(292, 465, "ES 12-15 (2 Min)", { z: 42 });
  txt(292, 481, "# bars:", { z: 42 });
  txt(344, 481, "96", { z: 42 });
  txt(292, 497, "Time:", { z: 42 });
  txt(344, 497, "03:12:30", { z: 42 });
  txt(292, 513, "Y value:", { z: 42 });
  txt(344, 513, "24.75", { z: 42 });
  g.push({ type: "rect", z: 41, silent: true, shape: { x: 255.5, y: 521.5, width: 175, height: 17 }, style: { fill: "#fff", stroke: "#1a1a8a", lineWidth: 1 } });
  txt(343, 530, "Range as of 1:37PM EST", { align: "center", z: 42 });

  txt(4, 807, "BuySellPressure(ES 12-15 (2 Min))", { color: "#222", z: 42 });
  txt(6, 810, "BuySellPressure(ES", { color: "#333", z: 42 });

  // last-value tags
  tag(py(0, 1943.94), 60, "1943.94", "#c8921e", "#000");
  tag(py(0, 1940.66), 60, "1940.66", "#8c8c8c", "#111");
  tag(py(0, 1938.75), 58, "1938.75", "#000", "#fff");
  tag(py(2, 2898), 42, "2898", "#1a1ae6", "#fff");
  tag(py(3, 32.32), 45, "32.32", "#22ee22", "#111");
  tag(py(4, 0.0451), 52, "0.0451", "#8a8a8a", "#111");
  tag(py(5, 52.73), 45, "52.73", "#ee1111", "#fff");
  return g;
}

export default function App() {
  const ref = useRef<HTMLDivElement>(null);
  useEffect(() => {
    const el = ref.current as HTMLDivElement;
    const chart = echarts.init(el, null, { renderer: "svg" });
    chart.setOption(buildOption() as any);
    chart.setOption({ graphic: buildGraphic(chart) } as any);
    return () => chart.dispose();
  }, []);
  return <div ref={ref} style={{ position: "fixed", left: 0, top: 0, width: 995, height: 873, background: "#fff" }} />;
}
